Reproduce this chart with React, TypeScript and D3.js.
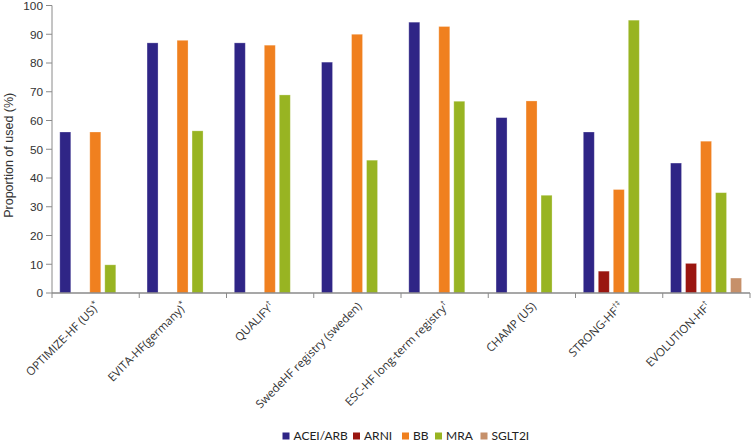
import React from "react";
import * as d3 from "d3";

const categories = [
  "OPTIMIZE-HF (US)",
  "EVITA-HF(germany)",
  "QUALIFY",
  "SwedeHF registry (sweden)",
  "ESC-HF long-term registry",
  "CHAMP (US)",
  "STRONG-HF",
  "EVOLUTION-HF",
];
const superscripts = ["*", "*", "†", "", "†", "", "†‡", "†"];

const seriesNames = ["ACEI/ARB", "ARNI", "BB", "MRA", "SGLT2I"];
const seriesColors = ["#2f2586", "#9a1610", "#f0801f", "#98b422", "#c6906a"];

const aceiArb = [56, 87, 87, 80.3, 94.2, 61, 56, 45.2];
const arni = [null, null, null, null, null, null, 7.6, 10.3];
const bb = [56, 87.9, 86.2, 90, 92.7, 66.8, 36, 52.8];
const mra = [9.8, 56.4, 68.9, 46.2, 66.7, 34, 94.9, 34.9];
const sglt2i = [null, null, null, null, null, null, null, 5.2];

const yTicks = [0, 10, 20, 30, 40, 50, 60, 70, 80, 90, 100];

const W = 752;
const H = 444;
const left = 52;
const right = 750;
const top = 5.5;
const bottom = 293;

export default function App() {
  const seriesValues = [aceiArb, arni, bb, mra, sglt2i];
  const x0 = d3.scaleBand<string>().domain(categories).range([left, right]).padding(0);
  const x1 = d3
    .scaleBand<string>()
    .domain(seriesNames)
    .range([7.8, 78.8])
    .paddingInner(0.267)
    .paddingOuter(0);
  const y = d3.scaleLinear().domain([0, 100]).range([bottom, top]);

  const axisColor = "#8a8a8a";
  const tickFont = "'Liberation Sans', Arial, sans-serif";
  const labelFont = "'Open Sans', 'Noto Sans', sans-serif";

  const boundaries = categories.map((c) => x0(c) as number).concat([right]);

  const legendX = [282.5, 353, 402, 435, 480.5];

  return (
    <svg
      width={W}
      height={H}
      style={{ position: "absolute", left: 0, top: 0, background: "#fff" }}
    >
      {/* bars */}
      {categories.map((c, ci) => (
        <g key={c} transform={`translate(${x0(c)},0)`}>
          {seriesNames.map((s, si) => {
            const v = seriesValues[si][ci];
            if (v == null) return null;
            return (
              <rect
                key={s}
                x={x1(s)}
                y={y(v)}
                width={x1.bandwidth()}
                height={y(0) - y(v)}
                fill={seriesColors[si]}
                stroke="#ffffff"
                strokeOpacity={0.35}
                strokeWidth={0.8}
              />
            );
          })}
        </g>
      ))}

      {/* y axis */}
      <line x1={left} x2={left} y1={top} y2={bottom} stroke={axisColor} strokeWidth={1} />
      {yTicks.map((t) => (
        <g key={t} transform={`translate(0,${y(t)})`}>
          <line x1={left - 6} x2={left} stroke={axisColor} strokeWidth={1} />
          <text
            x={left - 9}
            dy="0.36em"
            textAnchor="end"
            fontFamily={tickFont}
            fontSize={11.8}
            fill="#333"
          >
            {t}
          </text>
        </g>
      ))}
      <text
        transform={`translate(13,${(top + bottom) / 2 + 6}) rotate(-90)`}
        textAnchor="middle"
        fontFamily={tickFont}
        fontSize={12.5}
        fill="#333"
      >
        Proportion of used (%)
      </text>

      {/* x axis */}
      <line x1={left} x2={right} y1={bottom} y2={bottom} stroke={axisColor} strokeWidth={1.5} />
      {boundaries.map((bx, i) => (
        <line key={i} x1={bx} x2={bx} y1={bottom} y2={bottom + 5} stroke={axisColor} strokeWidth={1} />
      ))}
      {categories.map((c, ci) => {
        const cx = (x0(c) as number) + x0.bandwidth() / 2;
        return (
          <text
            key={c}
            transform={`translate(${cx + 5},${bottom + 14}) rotate(-45)`}
            textAnchor="end"
            fontFamily={labelFont}
            fontSize={11.5}
            fill="#333"
          >
            {c}
            {superscripts[ci] ? (
              <tspan fontSize={7.5} dy={-5}>
                {superscripts[ci]}
              </tspan>
            ) : null}
          </text>
        );
      })}

      {/* legend */}
      {seriesNames.map((s, si) => (
        <g key={s} transform={`translate(${legendX[si]},436)`}>
          <rect x={0} y={-3.5} width={7} height={7} fill={seriesColors[si]} />
          <text
            x={11}
            dy="0.35em"
            fontFamily="Lato, 'Noto Sans', sans-serif"
            fontSize={12}
            fill="#222"
          >
            {s}
          </text>
        </g>
      ))}
    </svg>
  );
}
